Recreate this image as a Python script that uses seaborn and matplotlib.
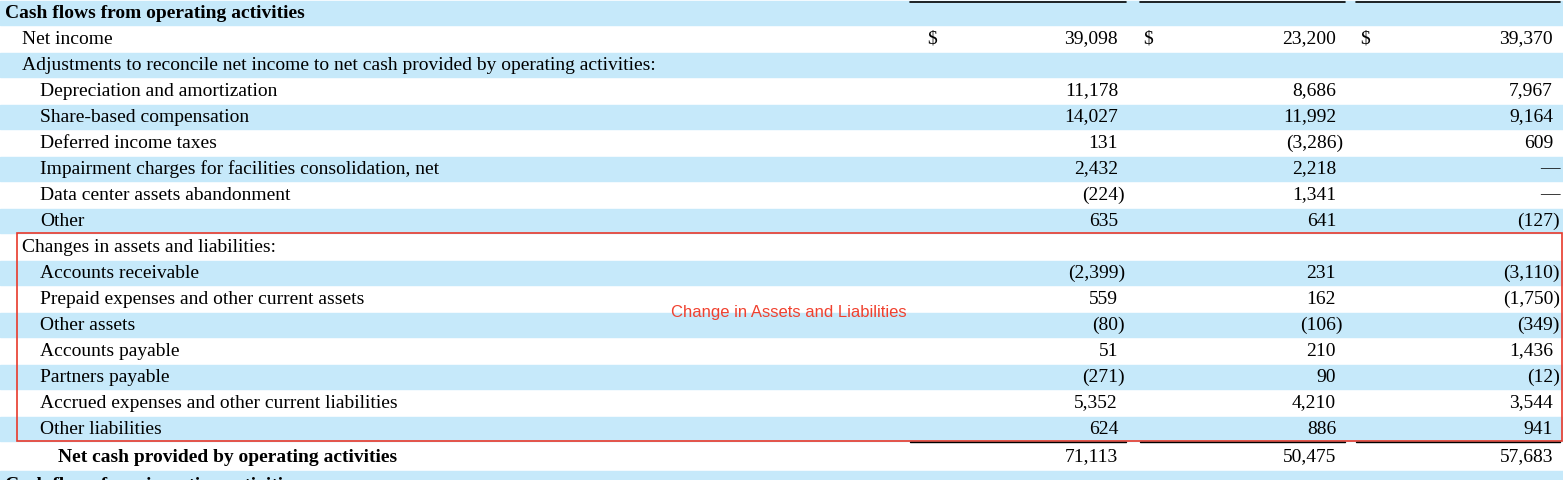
import matplotlib.pyplot as plt
import seaborn as sns

labels = [
    'Cash flows from operating activities', 'Net income',
    'Adjustments to reconcile net income to net cash provided by operating activities:',
    'Depreciation and amortization', 'Share-based compensation', 'Deferred income taxes',
    'Impairment charges for facilities consolidation, net', 'Data center assets abandonment',
    'Other', 'Changes in assets and liabilities:', 'Accounts receivable',
    'Prepaid expenses and other current assets', 'Other assets', 'Accounts payable',
    'Partners payable', 'Accrued expenses and other current liabilities', 'Other liabilities',
    'Net cash provided by operating activities',
]
indent = [0, 1, 1, 2, 2, 2, 2, 2, 2, 1, 2, 2, 2, 2, 2, 2, 2, 3]
col_2024 = [None, 39098, None, 11178, 14027, 131, 2432, -224, 635, None,
            -2399, 559, -80, 51, -271, 5352, 624, 71113]
col_2023 = [None, 23200, None, 8686, 11992, -3286, 2218, 1341, 641, None,
            231, 162, -106, 210, 90, 4210, 886, 50475]
col_2022 = [None, 39370, None, 7967, 9164, 609, 0, 0, -127, None,
            -3110, -1750, -349, 1436, -12, 3544, 941, 57683]
columns = [col_2024, col_2023, col_2022]
note = 'Change in Assets and Liabilities'

sns.set_theme(style='white')
plt.rcParams['font.family'] = ['Liberation Serif', 'DejaVu Serif']
plt.rcParams['text.color'] = 'black'

fig = plt.figure(figsize=(15.63, 4.8), dpi=100)
ax = fig.add_axes([0, 0, 1, 1])
ax.set_xlim(0, 1563)
ax.set_ylim(480, 0)
ax.axis('off')

fs = 14
blue = '#C6E9FA'
row_h = 26
y0 = 13
for i in range(len(labels) + 1):
    yc = y0 + row_h * i + (2 if i >= 17 else 0)
    if i % 2 == 0:
        ax.axhspan(yc - 12, yc + 12, color=blue, zorder=0)
    if i == len(labels):
        ax.text(5, yc + 2, 'Cash flows from investing activities', fontsize=fs,
                weight='bold', va='center')
        continue
    bold = indent[i] in (0, 3)
    ax.text(5 + 17.5 * indent[i], yc, labels[i], fontsize=fs, va='center',
            weight='bold' if bold else 'normal')

right = [1118, 1336, 1553]
dollar = [932, 1148, 1365]
for c, vals in enumerate(columns):
    for i, v in enumerate(vals):
        if v is None:
            continue
        yc = y0 + row_h * i + (2 if i >= 17 else 0)
        if v == 0:
            ax.text(right[c] + 7, yc, '—', fontsize=fs, va='center', ha='right')
        elif v < 0:
            ax.text(right[c] + 7, yc, f'({-v:,})', fontsize=fs, va='center', ha='right')
        else:
            ax.text(right[c], yc, f'{v:,}', fontsize=fs, va='center', ha='right')
        if i == 1:
            ax.text(dollar[c], yc, '$', fontsize=fs, va='center', ha='center')

spans = [(910, 1126), (1140, 1345), (1356, 1560)]
for a, b in spans:
    ax.plot([a, b], [1.5, 1.5], color='black', lw=1.2)
    ax.plot([a, b], [442, 442], color='black', lw=1)

ax.add_patch(plt.Rectangle((17, 233), 1545, 208, fill=False, ec='#E8392B', lw=1.2))
ax.text(789, 313, note, fontsize=12, color='#F0412F', ha='center', va='center',
        family='Liberation Sans')

fig.savefig('out.png', dpi=100)
